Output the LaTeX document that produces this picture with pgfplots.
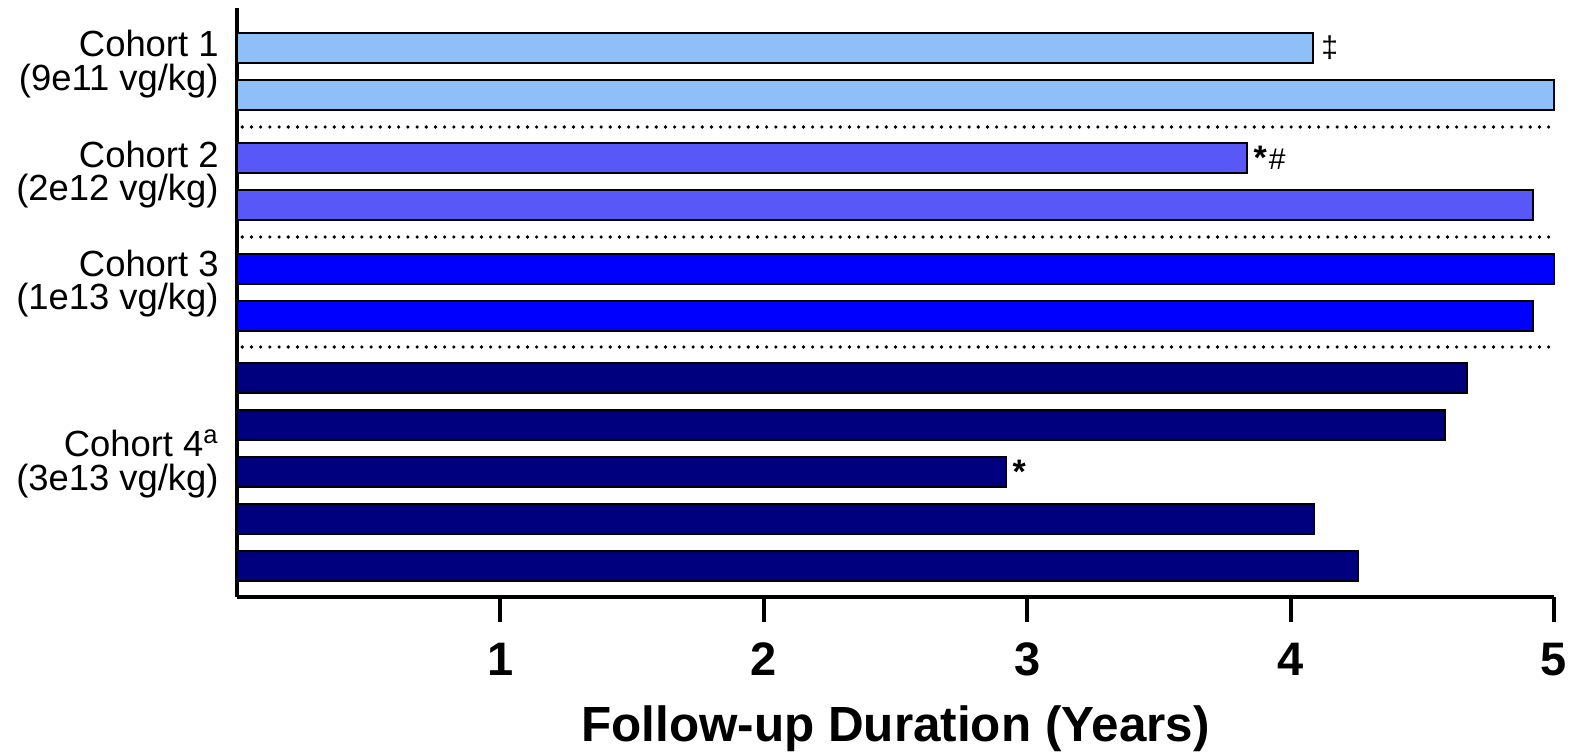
\documentclass[border=0pt]{standalone}
\usepackage{pgfplots}
\pgfplotsset{compat=1.18}
\usepackage{fontspec}
\setmainfont{Liberation Sans}
\definecolor{c1}{HTML}{8FBFF8}
\definecolor{c2}{HTML}{5858F8}
\definecolor{c3}{HTML}{0000FF}
\definecolor{c4}{HTML}{00007F}
\begin{document}
\begin{tikzpicture}
\begin{axis}[
  at={(0pt,0pt)}, anchor=south west, scale only axis,
  width=658.5pt, height=294.5pt,
  xmin=0, xmax=5, ymin=-597, ymax=-8,
  axis x line*=bottom, axis y line*=left,
  axis line style={line width=2pt},
  xtick={1,2,3,4,5}, ytick=\empty,
  tick align=outside, major tick length=12.5pt,
  major tick style={black, line width=2pt},
  /pgf/number format/assume math mode=true,
  xticklabel style={font=\bfseries\fontsize{23.5}{23.5}\selectfont, yshift=-7pt},
  xlabel={Follow-up Duration (Years)},
  xlabel style={at={(axis description cs:0.5,0)}, anchor=base, yshift=-72pt,
    font=\bfseries\fontsize{24.7}{24.7}\selectfont},
  xbar, bar width=30, bar shift=0pt,
  clip=false,
]
% Cohort 1
\addplot[fill=c1, draw=black, line width=1pt] coordinates {(4.085,-48) (5.00,-95)};
% Cohort 2
\addplot[fill=c2, draw=black, line width=1pt] coordinates {(3.835,-158) (4.92,-205)};
% Cohort 3
\addplot[fill=c3, draw=black, line width=1pt] coordinates {(5.00,-269) (4.92,-316)};
% Cohort 4
\addplot[fill=c4, draw=black, line width=1pt] coordinates {(4.67,-378) (4.585,-425) (2.92,-472) (4.09,-519) (4.255,-566)};
% separators
\addplot[sharp plot, forget plot, black, line width=1.8pt, line cap=round, dash pattern=on 0pt off 4.6pt] coordinates {(0.02,-127) (5,-127)};
\addplot[sharp plot, forget plot, black, line width=1.8pt, line cap=round, dash pattern=on 0pt off 4.6pt] coordinates {(0.02,-237) (5,-237)};
\addplot[sharp plot, forget plot, black, line width=1.8pt, line cap=round, dash pattern=on 0pt off 4.6pt] coordinates {(0.02,-347) (5,-347)};
% annotations
\node[anchor=west, font=\fontsize{15}{15}\selectfont, inner sep=0pt] at (axis cs:4.085,-48) [xshift=4pt] {‡};
\node[anchor=west, font=\fontsize{15}{15}\selectfont, inner sep=0pt] at (axis cs:3.835,-158) [xshift=3pt] {\textbf{\fontsize{17}{17}\selectfont *}\hspace{1pt}\#};
\node[anchor=west, font=\bfseries\fontsize{17}{17}\selectfont, inner sep=0pt] at (axis cs:2.92,-472) [xshift=3pt] {*};
% cohort labels
\begin{scope}[every node/.style={anchor=base east, font=\fontsize{18.2}{18.2}\selectfont, inner sep=0pt, xshift=-9pt}]
\node at (axis cs:0,-56) {Cohort 1};
\node at (axis cs:0,-90) {(9e11 vg/kg)};
\node at (axis cs:0,-167) {Cohort 2};
\node at (axis cs:0,-200) {(2e12 vg/kg)};
\node at (axis cs:0,-276) {Cohort 3};
\node at (axis cs:0,-309) {(1e13 vg/kg)};
\node at (axis cs:0,-456) {Cohort 4\textsuperscript{a}};
\node at (axis cs:0,-490) {(3e13 vg/kg)};
\end{scope}
\end{axis}
\pgfresetboundingbox
\path[use as bounding box] (-118.5pt,-77.5pt) rectangle (668pt,298.5pt);
\end{tikzpicture}
\end{document}
